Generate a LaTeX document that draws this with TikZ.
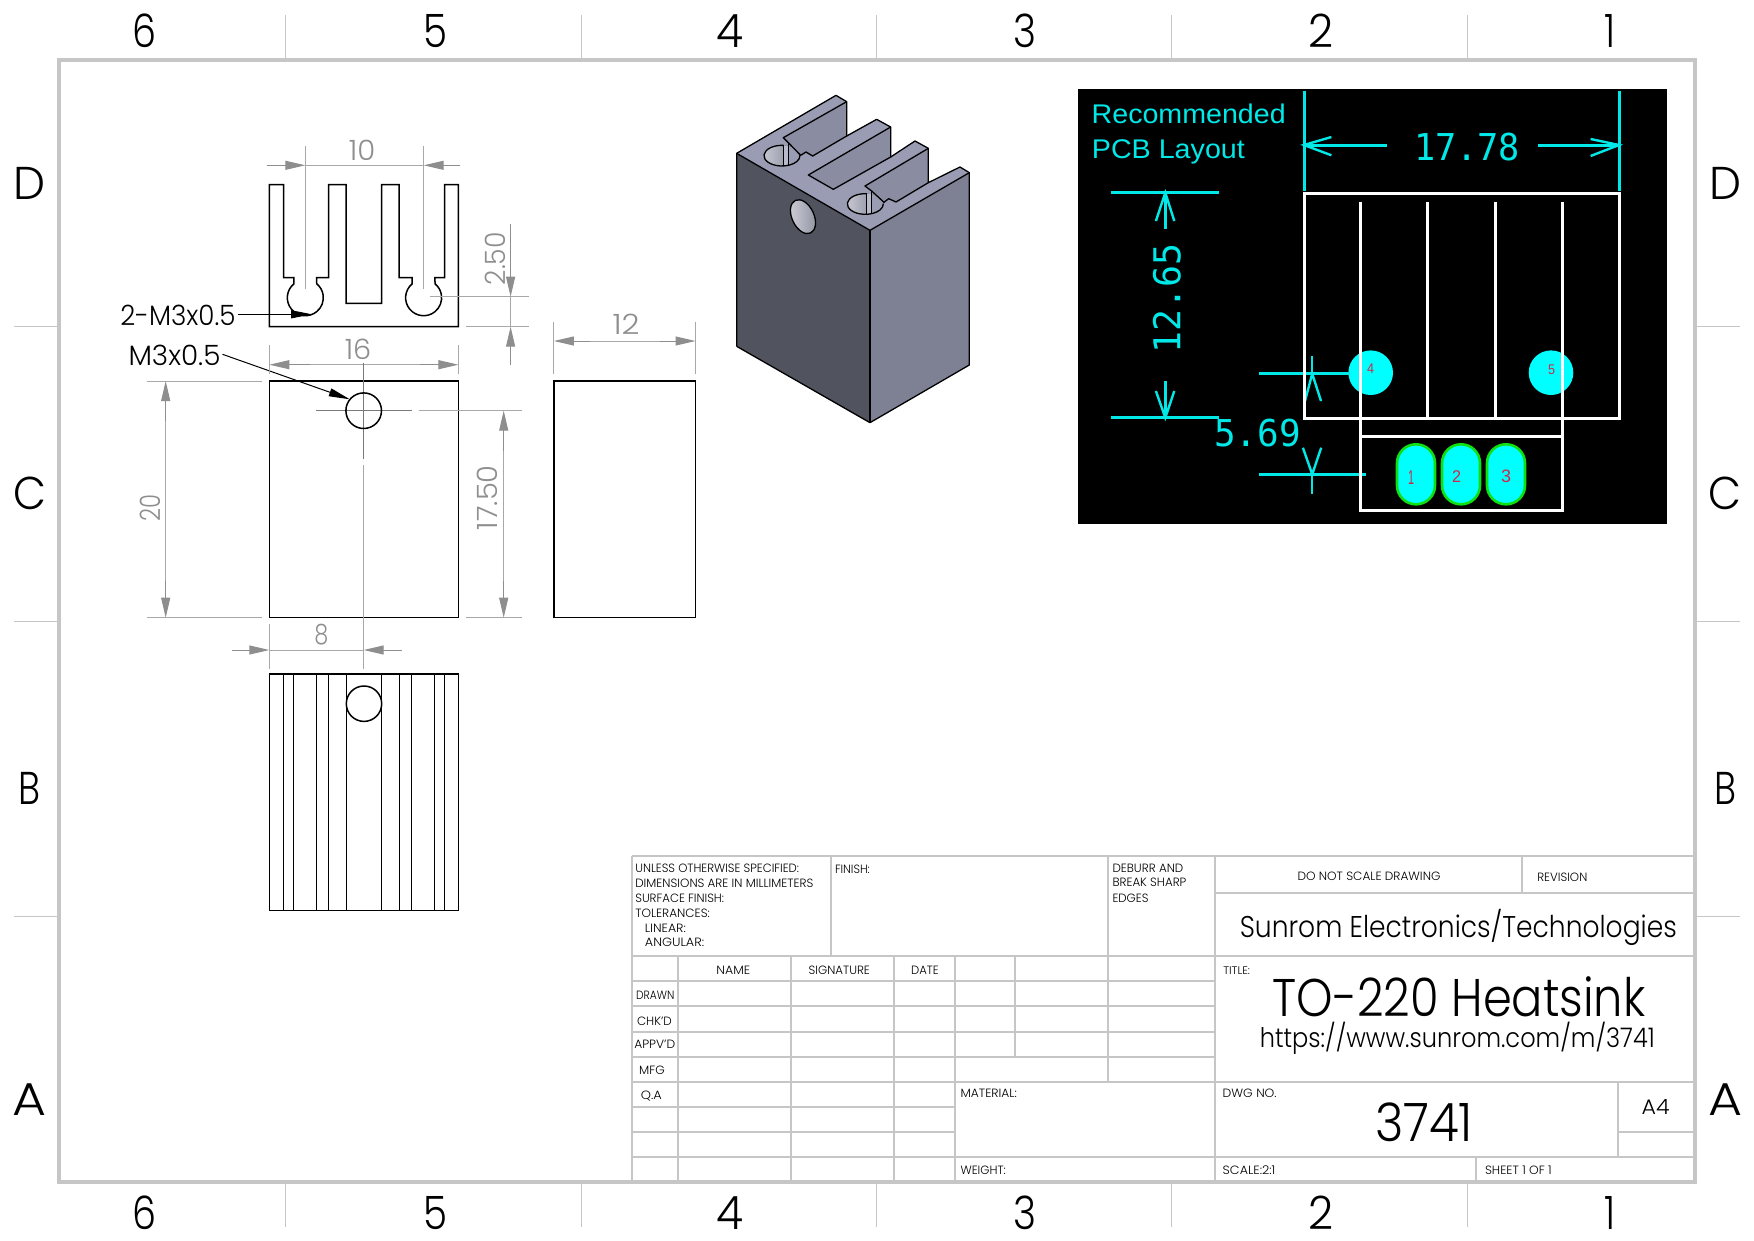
\documentclass[tikz,border=0pt]{standalone}
\usepackage{graphicx}
\usepackage{fontspec}
\setmainfont{Poppins}[UprightFont=* Light]
\newfontfamily\pcbsans{Liberation Sans}
\newfontfamily\pcbmono{DejaVu Sans Mono}
\usetikzlibrary{arrows.meta}
\definecolor{framec}{HTML}{C6C6C6}
\definecolor{dimc}{HTML}{8E8E8E}
\definecolor{extc}{HTML}{A8A8A8}
\definecolor{cyanc}{HTML}{00E8E8}
\definecolor{padc}{HTML}{00FFFF}
\definecolor{padg}{HTML}{10E010}
\definecolor{redc}{HTML}{D02848}
\definecolor{isodark}{HTML}{51535F}
\definecolor{isoright}{HTML}{7E8093}
\definecolor{isotop}{HTML}{9A9CB3}
\definecolor{isowall}{HTML}{8A8CA2}
\tikzset{
  frameln/.style={draw=framec,line width=3.6pt},
  tickln/.style={draw=framec,line width=1pt},
  blockln/.style={draw=framec,line width=2pt},
  obj/.style={draw=black,line width=1.5pt},
  dimln/.style={draw=extc,line width=1pt},
  dimhead/.style={draw=dimc,line width=1pt,-{Triangle[length=20pt,width=9pt,fill=dimc]}},
  ctrln/.style={draw=dimc!85!black,line width=1.3pt},
  leader/.style={draw=black,line width=1pt,-{Triangle[length=21pt,width=8pt,fill=black]}},
  isoln/.style={draw=black,line width=1.3pt,line join=round},
  cyln/.style={draw=cyanc,line width=3pt},
  cyhd/.style={draw=cyanc,line width=2.4pt},
  whln/.style={draw=white,line width=3pt},
  txt/.style={inner sep=0pt,outer sep=0pt},
}
% \lbl[options]{name}{x}{y}{font size}{width}{text}
\newcommand\lbl[7][]{\node[txt,#1] (#2) at (#3,#4) {\fontsize{#5}{#5}\selectfont\rule{0pt}{\dimexpr #5pt*7/10\relax}\smash{\resizebox{#6pt}{\height}{#7}}};}
\newcommand\isohole[2]{%
  \fill[left color=black!10!isotop!50!white,right color=isoright] (#1,#2) ellipse [x radius=18pt,y radius=10.33pt];
  \begin{scope}
    \clip (#1,#2) ellipse [x radius=18pt,y radius=10.33pt];
    \fill[isotop] ({#1+19},{#2-40}) rectangle ({#1+60},{#2+40});
    \fill[isotop!70!white] ({#1+4},{#2-40}) rectangle ({#1+19},{#2+40});
  \end{scope}
}
\newcommand\isoholeline[2]{%
  \draw[isoln] ({#1+4.7},{#2-30.9}) arc[start angle=85,end angle=362,x radius=18pt,y radius=10.33pt];
  \draw[isoln] ({#1+4},{#2-31}) -- ({#1+4},{#2+30});
  \draw[isoln] ({#1+19},{#2-39}) -- ({#1+19},{#2+28});
}
\begin{document}
\begin{tikzpicture}[x=1pt,y=-1pt]
\useasboundingbox (0,-1) rectangle (1754,1239);
\fill[white] (0,-1) rectangle (1754,1239);
% sheet frame and zone ticks
\draw[frameln] (59,59) rectangle (1695,1181);
\foreach \xx in {285,581,876,1171,1467}{
  \draw[tickln] (\xx,14) -- (\xx,59);
  \draw[tickln] (\xx,1181) -- (\xx,1226);
}
\foreach \yy in {325.5,620,915}{
  \draw[tickln] (14,\yy) -- (59,\yy);
  \draw[tickln] (1695,\yy) -- (1740,\yy);
}
\lbl{t6}{144}{30}{46}{24}{6}
\lbl{t5}{435}{30}{46}{24}{5}
\lbl{t4}{730}{30}{46}{27}{4}
\lbl{t3}{1025}{30}{46}{23}{3}
\lbl{t2}{1321}{30}{46}{25}{2}
\lbl{t1}{1610}{30}{46}{11}{1}
\lbl{b6}{144}{1212}{46}{24}{6}
\lbl{b5}{435}{1212}{46}{24}{5}
\lbl{b4}{730}{1212}{46}{27}{4}
\lbl{b3}{1025}{1212}{46}{23}{3}
\lbl{b2}{1321}{1212}{46}{25}{2}
\lbl{b1}{1610}{1212}{46}{11}{1}
\lbl{lD}{30}{182}{46}{32}{D}
\lbl{lC}{30}{492}{46}{33}{C}
\lbl{lB}{30}{787}{46}{22}{B}
\lbl{lA}{30}{1098}{46}{34}{A}
\lbl{rD}{1725}{182}{46}{32}{D}
\lbl{rC}{1725}{492}{46}{33}{C}
\lbl{rB}{1725}{787}{46}{22}{B}
\lbl{rA}{1725}{1098}{46}{34}{A}
% top view: profile
\draw[obj,line join=miter] (269.4,183.7) -- (283.7,183.7) -- (283.7,276.7) -- (293.9,276.7) -- (293.9,282.8)
  arc[start angle=129.4,end angle=410.6,radius=18pt] -- (316.7,276.7) -- (328.6,276.7) -- (328.6,183.7) -- (346.1,183.7)
  -- (346.1,302.3) -- (381.6,302.3) -- (381.6,183.7) -- (399.2,183.7) -- (399.2,276.7) -- (412.2,276.7) -- (412.2,282.8)
  arc[start angle=129.4,end angle=410.6,radius=18pt] -- (434.9,276.7) -- (444.5,276.7) -- (444.5,183.7) -- (458.4,183.7)
  -- (458.4,325.7) -- (269.4,325.7) -- cycle;
% dim 10
\draw[dimln] (305.3,145) -- (305.3,288.3);
\draw[dimln] (423.7,145) -- (423.7,288.3);
\draw[dimln] (305.3,164.3) -- (423.7,164.3);
\draw[dimhead] (267,164.3) -- (305.3,164.3);
\draw[dimhead] (460.4,164.3) -- (423.7,164.3);
\lbl[text=dimc]{d10}{362}{149.3}{28}{26.5}{10}
% dim 2.50
\draw[dimln] (429.8,295.7) -- (529.4,295.7);
\draw[dimln] (466,325.7) -- (529.4,325.7);
\draw[dimhead] (510.6,222.7) -- (510.6,295.7);
\draw[dimhead] (510.6,364) -- (510.6,325.7);
\draw[dimln] (510.6,295.7) -- (510.6,325.7);
\lbl[text=dimc,rotate=90]{d250}{496}{257.7}{28}{53}{2.50}
% callouts
\lbl{cTwo}{178}{314.3}{28}{115}{2-M3x0.5}
\coordinate (tipTwo) at (312,313.3);
\draw[leader] (cTwo.east) ++(2,-1) -- (tipTwo);
\lbl{cOne}{174.5}{354.3}{28}{92}{M3x0.5}
\coordinate (tipOne) at (349.8,398.3);
\draw[leader] (cOne.east) ++(2,-1) -- (tipOne);
% dim 12 and right view
\draw[dimln] (553.9,320.7) -- (553.9,373.3);
\draw[dimln] (695.5,320.7) -- (695.5,373.3);
\draw[dimln] (560,340) -- (690,340);
\draw[dimhead] (590,340) -- (553.9,340);
\draw[dimhead] (660,340) -- (695.5,340);
\lbl[text=dimc]{d12}{626}{324}{28}{27}{12}
\draw[obj] (553.9,380) rectangle (695.5,616.7);
% dim 16
\draw[dimln] (269.4,344) -- (269.4,373.3);
\draw[dimln] (458.4,344) -- (458.4,373.3);
\draw[dimln] (280,363.7) -- (450,363.7);
\draw[dimhead] (310,363.7) -- (269.4,363.7);
\draw[dimhead] (420,363.7) -- (458.4,363.7);
\lbl[text=dimc]{d16}{358}{349}{28}{26.5}{16}
% middle view
\draw[obj] (269.4,380) rectangle (458.4,616.7);
\draw[ctrln] (316,409.7) -- (411.8,409.7);
\draw[ctrln] (363.7,361.7) -- (363.7,457.7);
\draw[dimln] (363.7,464.3) -- (363.7,668.3);
\draw[obj] (363.7,409.7) circle[radius=17.8pt];
% dim 17.50 and 20
\draw[dimln] (418.8,409.7) -- (522.4,409.7);
\draw[dimln] (466,616.7) -- (522.4,616.7);
\draw[dimln] (503.7,430) -- (503.7,600);
\draw[dimhead] (503.7,450) -- (503.7,409.7);
\draw[dimhead] (503.7,580) -- (503.7,616.7);
\lbl[text=dimc,rotate=90]{d1750}{487.8}{496.7}{28}{65}{17.50}
\draw[dimln] (147,380) -- (262,380);
\draw[dimln] (147,616.7) -- (262,616.7);
\draw[dimln] (165.7,400) -- (165.7,600);
\draw[dimhead] (165.7,420) -- (165.7,380);
\draw[dimhead] (165.7,580) -- (165.7,616.7);
\lbl[text=dimc,rotate=90]{d20}{151}{506.7}{28}{27}{20}
% bottom view
\draw[dimln] (269.3,623) -- (269.3,668.3);
\draw[dimln] (269.3,649) -- (363.7,649);
\draw[dimhead] (232,649) -- (269.3,649);
\draw[dimhead] (401.7,649) -- (363.7,649);
\lbl[text=dimc]{d8}{321.3}{634}{28}{14}{8}
\draw[obj] (269.3,673) rectangle (458.7,909.7);
\foreach \xx in {283.7,293.7,316.3,328.7,346.3,381.7,399.3,411.7,434.3,444.3}{
  \draw[obj] (\xx,673) -- (\xx,909.7);
}
\draw[obj] (364,702.7) circle[radius=17.7pt];
% isometric view
\begin{scope}[x=0.333333pt,y=-0.333333pt,shift={(2100,210)}]
  \fill[isodark] (110,247) -- (510,478) -- (510,1055) -- (110,826) -- cycle;
  \fill[isoright] (510,478) -- (808,305) -- (808,882) -- (510,1055) -- cycle;
  \fill[isotop] (110,247) -- (408,73) -- (440,92) -- (440,195) -- (530,145) -- (572,168) -- (572,258) -- (645,210) -- (685,232) -- (685,335) -- (780,288) -- (808,305) -- (510,478) -- cycle;
  \isohole{246}{254}
  \isohole{496}{399}
  \filldraw[isoln,fill=isowall] (250,200) -- (440,92) -- (440,195) -- (338,255) -- (318,243) -- (302,253) -- (265,215) -- cycle;
  \filldraw[isoln,fill=isowall] (325,312) -- (572,168) -- (572,258) -- (400,355) -- cycle;
  \filldraw[isoln,fill=isowall] (495,345) -- (685,232) -- (685,335) -- (588,393) -- (566,383) -- (552,394) -- (515,360) -- cycle;
  \isoholeline{246}{254}
  \isoholeline{496}{399}
  \draw[isoln] (110,826) -- (110,247) -- (408,73) -- (440,92);
  \draw[isoln] (440,195) -- (530,145) -- (572,168);
  \draw[isoln] (572,258) -- (645,210) -- (685,232);
  \draw[isoln] (685,335) -- (780,288) -- (808,305) -- (808,882) -- (510,1055) -- (110,826);
  \draw[isoln] (110,247) -- (510,478) -- (808,305);
  \draw[isoln] (510,478) -- (510,1055);
  \draw[isoln,left color=black!15!isotop!40!white,right color=isoright!85!white,rotate around={25:(309,437)}] (309,437) ellipse [x radius=11pt,y radius=18pt];
\end{scope}
% PCB layout inset
\fill[black] (1077.6,88.3) rectangle (1666.5,522.7);
\fill[padc] (1370.7,371.7) circle[radius=22.3pt];
\fill[padc] (1551,371.7) circle[radius=22.3pt];
\foreach \px in {1416,1461,1506}{
  \filldraw[draw=padg,line width=2.6pt,fill=padc,rounded corners=18.9pt] (\px-19,443.3) rectangle (\px+19,503.3);
}
\draw[cyln] (1304,90) -- (1304,190);
\draw[cyln] (1619,90) -- (1619,190);
\draw[cyln] (1304,144) -- (1386.5,144);
\draw[cyhd] (1331.4,136) -- (1304,144) -- (1331.4,154.3);
\draw[cyln] (1537.6,144) -- (1619,144);
\draw[cyhd] (1590.6,138) -- (1619,144) -- (1590.6,155);
\draw[cyln] (1110.6,191.7) -- (1219.2,191.7);
\draw[cyln] (1110.6,416.7) -- (1219.2,416.7);
\draw[cyln] (1165.3,191.7) -- (1165.3,228.3);
\draw[cyhd] (1155.9,220) -- (1165.3,191.7) -- (1174.3,220);
\draw[cyln] (1165.3,380) -- (1165.3,416.7);
\draw[cyhd] (1155.9,390) -- (1165.3,416.7) -- (1174.3,390);
\draw[cyln] (1259,372.7) -- (1349.8,372.7);
\draw[cyhd] (1312.2,355) -- (1312.2,372.7);
\draw[cyhd] (1305,400) -- (1312.2,372.7) -- (1321,400);
\draw[cyln] (1259,473.3) -- (1366,473.3);
\draw[cyhd] (1312.2,473.3) -- (1312.2,492.7);
\draw[cyhd] (1302.9,446.7) -- (1312.2,473.3) -- (1321.2,446.7);
\draw[whln] (1304,192.3) rectangle (1619,417.3);
\draw[whln] (1360.5,201) -- (1360.5,510);
\draw[whln] (1427.3,201) -- (1427.3,417.3);
\draw[whln] (1495.5,201) -- (1495.5,417.3);
\draw[whln] (1562.8,201) -- (1562.8,510);
\draw[whln] (1360.5,435.5) -- (1562.8,435.5);
\draw[whln] (1359,509.5) -- (1564.3,509.5);
\lbl[text=cyanc]{pRec}{1188.7}{113}{27}{194}{\pcbsans Recommended}
\lbl[text=cyanc]{pPcb}{1168.4}{147.8}{27}{153}{\pcbsans PCB Layout}
\lbl[text=cyanc]{pW}{1467}{146.5}{37}{106}{\pcbmono 17.78}
\lbl[text=cyanc,rotate=90]{pH}{1167.3}{297.5}{37}{110}{\pcbmono 12.65}
\lbl[text=cyanc]{pO}{1257.5}{432.3}{37}{86.5}{\pcbmono 5.69}
\lbl[text=redc]{pin4}{1370.7}{368}{14}{7}{\pcbsans 4}
\lbl[text=redc]{pin5}{1551.7}{369}{14}{7}{\pcbsans 5}
\lbl[text=redc]{pin1}{1411}{476}{20}{6}{\pcbsans 1}
\lbl[text=redc]{pin2}{1456.7}{476}{17}{9}{\pcbsans 2}
\lbl[text=redc]{pin3}{1506}{475}{18}{10}{\pcbsans 3}
% title block lines
\draw[blockln] (631.5,855.3) -- (1694,855.3);
\draw[blockln] (631.5,955) -- (1694,955);
\draw[blockln] (631.5,1080.7) -- (1694,1080.7);
\draw[blockln] (631.5,1156) -- (1694,1156);
\draw[blockln] (1215,892.3) -- (1694,892.3);
\foreach \yy in {980,1005,1030.7,1055.7}{\draw[blockln] (631.5,\yy) -- (1215,\yy);}
\foreach \yy in {1105.7,1130.7}{\draw[blockln] (631.5,\yy) -- (954.5,\yy);}
\draw[blockln] (631.5,855.3) -- (631.5,1180);
\draw[blockln] (831.3,855.3) -- (831.3,955);
\draw[blockln] (1108,855.3) -- (1108,1080.7);
\draw[blockln] (1215,855.3) -- (1215,1180);
\foreach \xx in {678.2,791,894,954.5}{\draw[blockln] (\xx,955) -- (\xx,1180);}
\draw[blockln] (1015.3,955) -- (1015.3,1055.7);
\draw[blockln] (1522.3,855.3) -- (1522.3,892.3);
\draw[blockln] (1617.7,1080.7) -- (1617.7,1156);
\draw[blockln] (1617.7,1131) -- (1694,1131);
\draw[blockln] (1476,1156) -- (1476,1180);
% title block text
\lbl[anchor=west]{tb1}{635.3}{867.7}{12}{163.8}{UNLESS OTHERWISE SPECIFIED:}
\lbl[anchor=west]{tb2}{635.3}{882}{12}{178}{DIMENSIONS ARE IN MILLIMETERS}
\lbl[anchor=west]{tb3}{635.3}{897}{12}{88.8}{SURFACE FINISH:}
\lbl[anchor=west]{tb4}{635.3}{912}{12}{74.6}{TOLERANCES:}
\lbl[anchor=west]{tb5}{644.9}{927}{12}{41}{LINEAR:}
\lbl[anchor=west]{tb6}{644.9}{941}{12}{59.3}{ANGULAR:}
\lbl[anchor=west]{tb7}{835}{868}{12}{34.8}{FINISH:}
\lbl[anchor=west]{tb8}{1112.5}{867}{12}{70.8}{DEBURR AND}
\lbl[anchor=west]{tb9}{1112.5}{881.7}{12}{73.9}{BREAK SHARP}
\lbl[anchor=west]{tb10}{1112.5}{897}{12}{36}{EDGES}
\lbl{tb11}{733.3}{969.7}{12}{33.7}{NAME}
\lbl{tb12}{839.3}{969.7}{12}{61.2}{SIGNATURE}
\lbl{tb13}{925}{969.7}{12}{27.6}{DATE}
\lbl{tb14}{655.2}{994.7}{12}{38.3}{DRAWN}
\lbl{tb15}{654.4}{1020}{12}{34.8}{CHK'D}
\lbl{tb16}{654.8}{1043.7}{12}{41}{APPV'D}
\lbl{tb17}{652}{1069.7}{12}{25.6}{MFG}
\lbl{tb18}{651.4}{1094}{12}{21}{Q.A}
\lbl[anchor=west]{tb19}{960.6}{1092}{12}{56.3}{MATERIAL:}
\lbl[anchor=west]{tb20}{960.6}{1169}{12}{45.2}{WEIGHT:}
\lbl{tb21}{1369}{875.7}{12}{143}{DO NOT SCALE DRAWING}
\lbl{tb22}{1562.3}{876.7}{12}{50}{REVISION}
\lbl{tb23}{1458.3}{925.7}{30}{437}{Sunrom Electronics/Technologies}
\lbl[anchor=west]{tb24}{1223.3}{970}{11}{26.7}{TITLE:}
\lbl{tb25}{1459}{996.7}{53}{373}{TO-220 Heatsink}
\lbl{tb26}{1457.3}{1036.7}{27}{395}{https://www.sunrom.com/m/3741}
\lbl[anchor=west]{tb27}{1222.7}{1092}{12}{54}{DWG NO.}
\lbl{tb28}{1424}{1121.5}{53}{98}{3741}
\lbl{tb29}{1655.7}{1105.7}{21}{28}{A4}
\lbl[anchor=west]{tb30}{1222.7}{1169}{12}{52.7}{SCALE:2:1}
\lbl[anchor=west]{tb31}{1485}{1169}{12}{66.7}{SHEET 1 OF 1}
\end{tikzpicture}
\end{document}
